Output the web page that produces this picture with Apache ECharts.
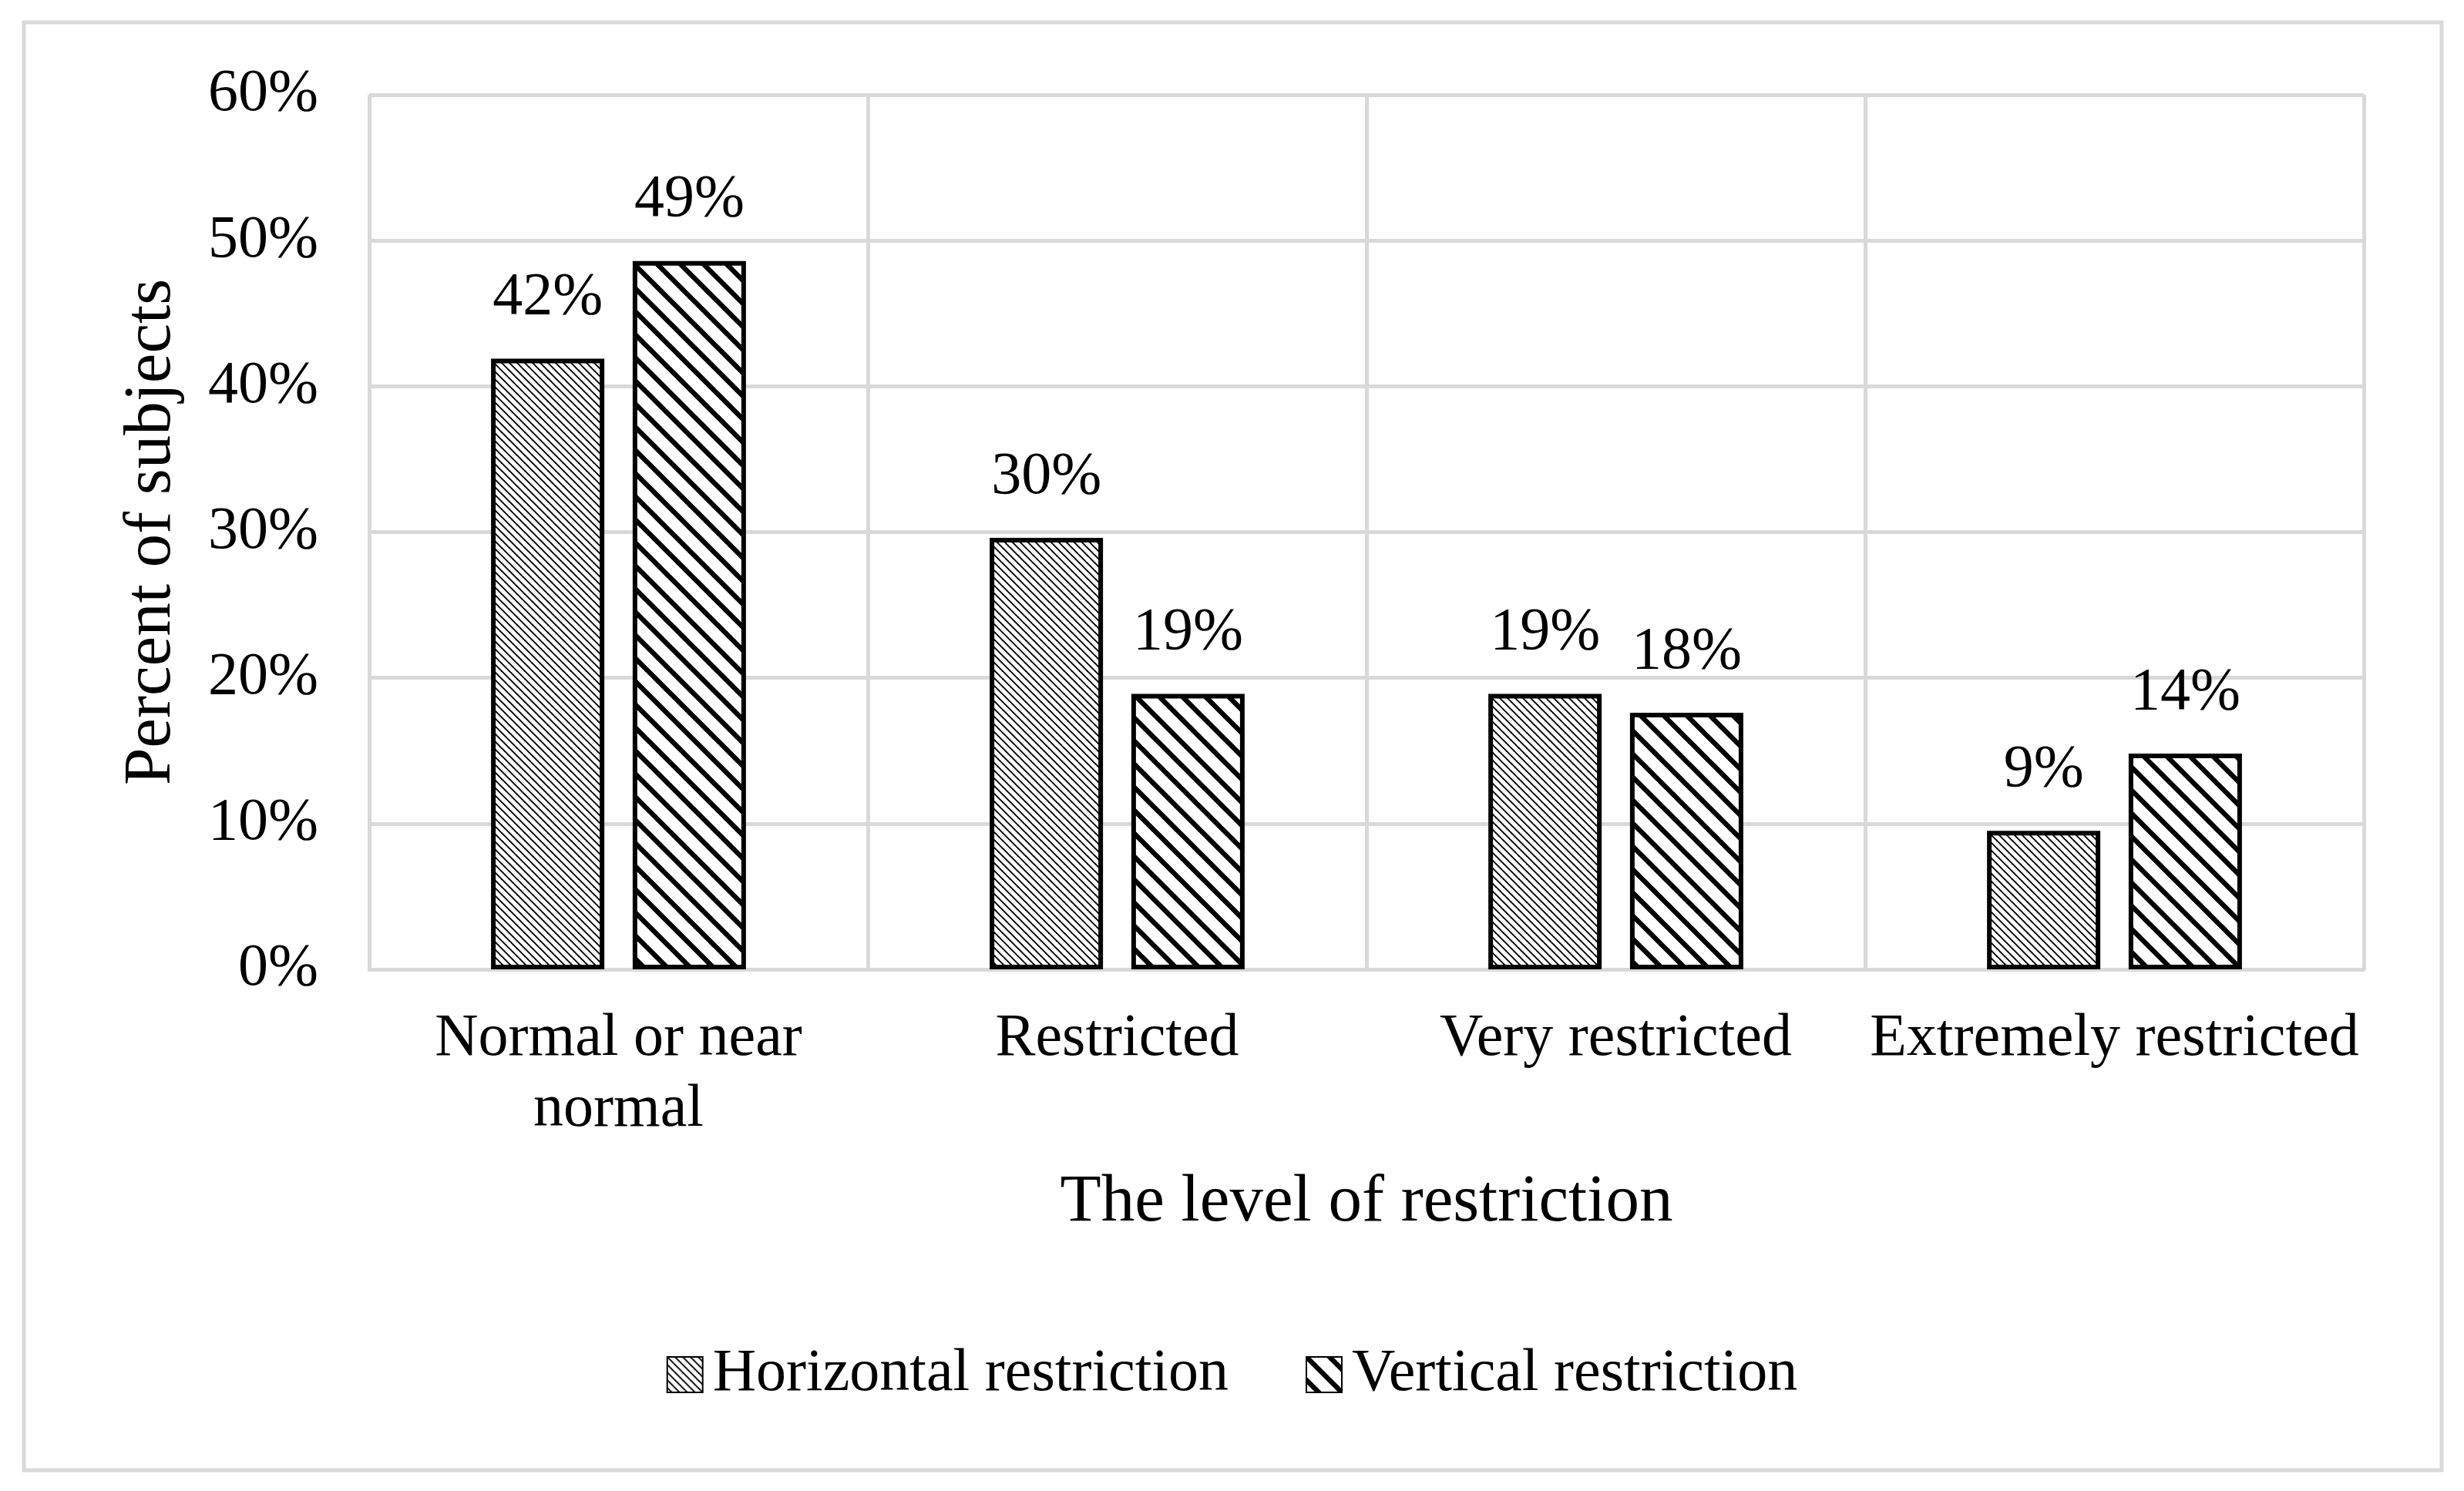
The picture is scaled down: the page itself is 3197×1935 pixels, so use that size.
<!DOCTYPE html>
<html><head><meta charset="utf-8">
<script src="https://cdn.jsdelivr.net/npm/echarts@6/dist/echarts.min.js"></script>
<style>html,body{margin:0;padding:0;background:#fff}#c{width:3197px;height:1935px}</style>
</head><body><div id="c"></div>
<script>
const categories = ['Normal or near\nnormal', 'Restricted', 'Very restricted', 'Extremely restricted'];
const seriesNames = ['Horizontal restriction', 'Vertical restriction'];
const horizontalValues = [41.9, 29.6, 18.9, 9.5];
const verticalValues = [48.6, 18.9, 17.6, 14.8];
const horizontalLabels = ['42%', '30%', '19%', '9%'];
const verticalLabels = ['49%', '19%', '18%', '14%'];
const yMin = 0, yMax = 60, yStep = 10;

const FONT = "'Liberation Serif', 'Times New Roman', serif";
const GRID = '#d9d9d9';

function stripePattern(period, lw) {
  const c = document.createElement('canvas');
  c.width = period; c.height = period;
  const g = c.getContext('2d');
  g.fillStyle = '#fff'; g.fillRect(0, 0, period, period);
  g.strokeStyle = '#000'; g.lineWidth = lw;
  for (let k = -1; k <= 1; k++) {
    g.beginPath();
    g.moveTo(k * period - 2, -2);
    g.lineTo(k * period + period + 2, period + 2);
    g.stroke();
  }
  return { image: c, repeat: 'repeat' };
}
const densePat = stripePattern(10, 1.9);
const widePat = stripePattern(30, 6.5);

const chart = echarts.init(document.getElementById('c'), null, { renderer: 'canvas' });
function labelFrom(arr) {
  return {
    show: true, position: 'top', distance: 40,
    fontFamily: FONT, fontSize: 78, color: '#000',
    formatter: p => arr[p.dataIndex]
  };
}
chart.setOption({
  backgroundColor: '#fff',
  animation: false,
  textStyle: { fontFamily: FONT, color: '#000' },
  graphic: [{
    type: 'rect', shape: { x: 31, y: 29, width: 3137, height: 1879 },
    style: { fill: 'none', stroke: GRID, lineWidth: 5 }, silent: true
  }],
  grid: { left: 479, right: 130, top: 123, bottom: 677 },
  legend: {
    top: 1740, left: 'center',
    itemWidth: 46, itemHeight: 46, itemGap: 100,
    icon: 'rect',
    textStyle: { fontFamily: FONT, fontSize: 78, color: '#000', padding: [0, 0, 0, 8] },
    data: seriesNames
  },
  xAxis: {
    type: 'category', data: categories,
    name: 'The level of restriction', nameLocation: 'middle', nameGap: 260,
    nameTextStyle: { fontFamily: FONT, fontSize: 87, color: '#000' },
    axisLine: { show: true, lineStyle: { color: GRID, width: 5 } },
    axisTick: { show: false },
    splitLine: { show: true, lineStyle: { color: GRID, width: 5 } },
    axisLabel: { fontFamily: FONT, fontSize: 78, color: '#000', margin: 45, lineHeight: 92, interval: 0 }
  },
  yAxis: {
    type: 'value', min: yMin, max: yMax, interval: yStep,
    name: 'Percent of subjects', nameLocation: 'middle', nameGap: 238,
    nameTextStyle: { fontFamily: FONT, fontSize: 87, color: '#000' },
    axisLine: { show: false }, axisTick: { show: false },
    splitLine: { show: true, lineStyle: { color: GRID, width: 5 } },
    axisLabel: { fontFamily: FONT, fontSize: 78, color: '#000', margin: 66, formatter: '{value}%' }
  },
  series: [
    {
      name: seriesNames[0], type: 'bar', data: horizontalValues,
      barWidth: 147, barGap: '25%',
      itemStyle: { color: densePat, borderColor: '#000', borderWidth: 6 },
      label: labelFrom(horizontalLabels)
    },
    {
      name: seriesNames[1], type: 'bar', data: verticalValues,
      barWidth: 147, barGap: '25%',
      itemStyle: { color: widePat, borderColor: '#000', borderWidth: 6 },
      label: labelFrom(verticalLabels)
    }
  ]
});
</script>
</body></html>
